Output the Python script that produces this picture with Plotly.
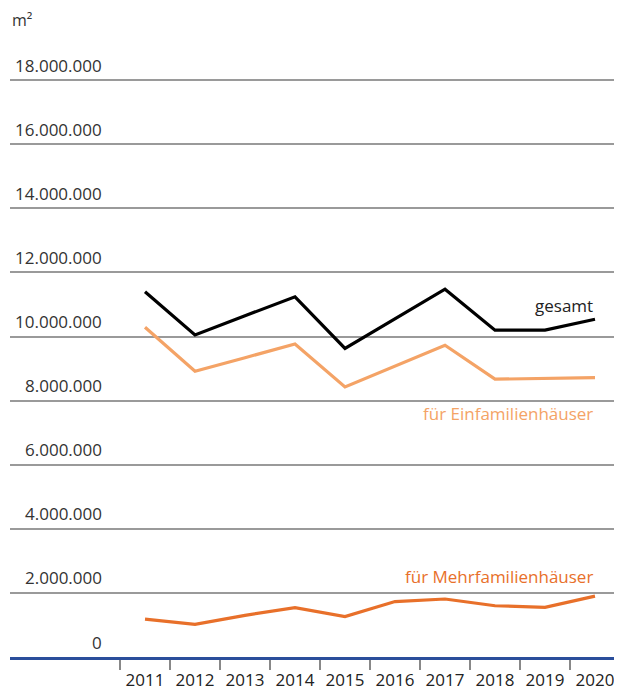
import plotly.graph_objects as go

years = [2011, 2012, 2013, 2014, 2015, 2016, 2017, 2018, 2019, 2020]
gesamt = [11.40e6, 10.05e6, 10.65e6, 11.24e6, 9.63e6, 10.56e6, 11.48e6, 10.20e6, 10.20e6, 10.54e6]
einfamilien = [10.29e6, 8.92e6, 9.34e6, 9.77e6, 8.43e6, 9.08e6, 9.73e6, 8.67e6, 8.70e6, 8.72e6]
mehrfamilien = [1.18e6, 1.02e6, 1.30e6, 1.54e6, 1.26e6, 1.73e6, 1.81e6, 1.60e6, 1.55e6, 1.90e6]
y_ticks = [0, 2_000_000, 4_000_000, 6_000_000, 8_000_000, 10_000_000, 12_000_000, 14_000_000, 16_000_000, 18_000_000]
year_labels = [str(y) for y in years]

FONT = "Open Sans"
BLACK = "#000000"
LIGHT = "#f4a366"
DARK = "#e8702a"

fig = go.Figure()
fig.add_trace(go.Scatter(x=years, y=gesamt, mode="lines", line=dict(color=BLACK, width=3.2), name="gesamt"))
fig.add_trace(go.Scatter(x=years, y=einfamilien, mode="lines", line=dict(color=LIGHT, width=3.2), name="für Einfamilienhäuser"))
fig.add_trace(go.Scatter(x=years, y=mehrfamilien, mode="lines", line=dict(color=DARK, width=3.2), name="für Mehrfamilienhäuser"))

annotations = []
for v in y_ticks:
    annotations.append(dict(
        x=0.154, xref="paper", y=v, yref="y", text=f"{v:,}".replace(",", "."),
        showarrow=False, xanchor="right", yanchor="middle", yshift=15,
        font=dict(family=FONT, size=17, color="#333333")))

annotations += [
    dict(x=2020, y=10.98e6, xref="x", yref="y", text="gesamt", showarrow=False,
         xanchor="right", yanchor="middle", font=dict(family=FONT, size=17, color="#222222")),
    dict(x=2020, y=7.61e6, xref="x", yref="y", text="für Einfamilienhäuser", showarrow=False,
         xanchor="right", yanchor="middle", font=dict(family=FONT, size=17, color=LIGHT)),
    dict(x=2020, y=2.50e6, xref="x", yref="y", text="für Mehrfamilienhäuser", showarrow=False,
         xanchor="right", yanchor="middle", font=dict(family=FONT, size=17, color=DARK)),
    dict(x=0, y=1.068, xref="paper", yref="paper", text="m²", showarrow=False,
         xanchor="left", yanchor="middle", font=dict(family=FONT, size=16, color="#333333")),
]

fig.update_layout(
    width=614, height=683,
    margin=dict(l=2, r=2, t=53, b=34),
    paper_bgcolor="white", plot_bgcolor="white",
    showlegend=False,
    annotations=annotations,
    font=dict(family=FONT),
    xaxis=dict(
        range=[2008.3, 2020.5], automargin=False,
        tickmode="array", tickvals=years, ticktext=year_labels,
        ticks="", showgrid=False, zeroline=False,
        showline=True, linecolor="#2a4e9b", linewidth=3,
        tickfont=dict(family=FONT, size=17, color="#222222"),
        ticklabelstandoff=6,
        minor=dict(tickmode="array", tickvals=[y + 0.5 for y in [2010] + years],
                   ticks="outside", ticklen=10, tickcolor="#888888", tickwidth=1.5,
                   showgrid=False),
    ),
    yaxis=dict(
        range=[0, 18.6e6], automargin=False,
        tickmode="array", tickvals=y_ticks[1:],
        showticklabels=False, ticks="",
        showgrid=True, gridcolor="#9a9a9a", gridwidth=1.5,
        zeroline=False, showline=False,
    ),
)

fig.write_html("out.html")
